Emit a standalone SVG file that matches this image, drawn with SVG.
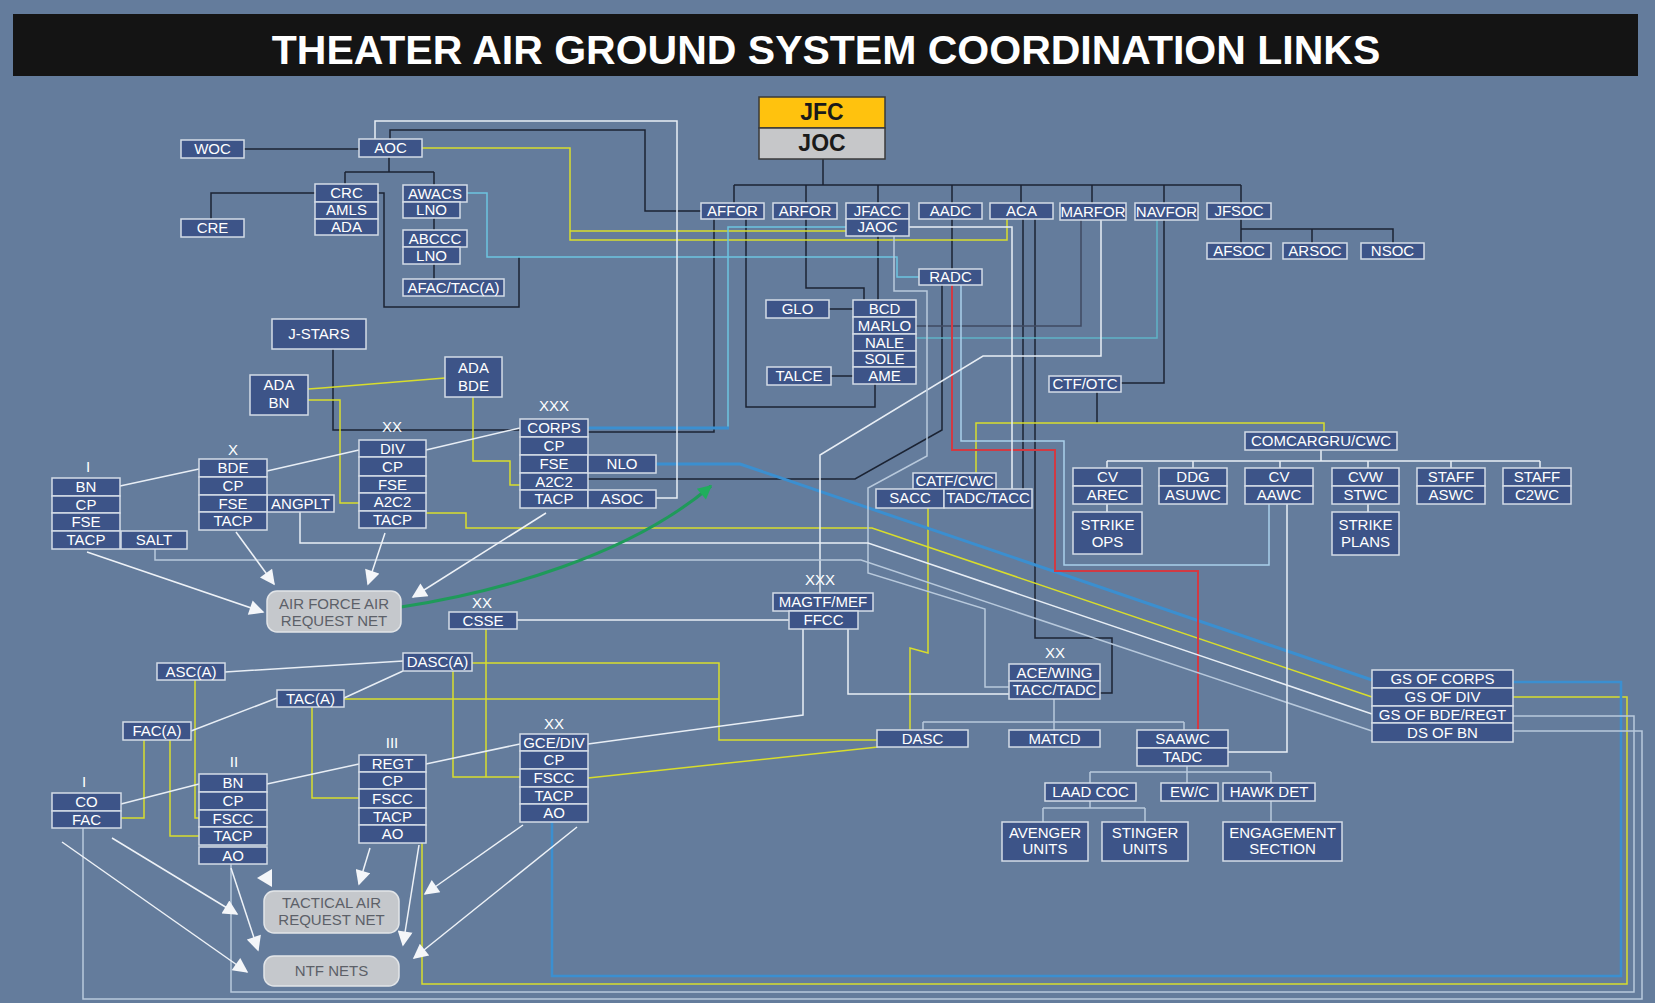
<svg xmlns="http://www.w3.org/2000/svg" width="1655" height="1003" viewBox="0 0 1655 1003">
<defs>
<style>
.n rect{fill:#3d5488;stroke:#d3dbe6;stroke-width:1.5}
.n text,.lbl{font-family:'Liberation Sans',Arial,sans-serif;font-size:15px;fill:#fff;text-anchor:middle}
.lbl{font-size:13px;fill:#eef2f7}
.net rect{fill:#c5c8cc;stroke:#e2e5e8;stroke-width:1.5}
.net text{fill:#5c6068}
.c path{fill:none;stroke-width:1.5}
.c path.k{stroke:#1b2333}
.c path.m{stroke:#3f4a62}
.c path.y{stroke:#d8dd2c}
.c path.cy{stroke:#6cc4df}
.c path.tl{stroke:#5fb2c6}
.c path.lb{stroke:#a9d0ea}
.c path.b{stroke:#3b8fd0;stroke-width:3}
.c path.b2{stroke:#3b8fd0;stroke-width:2.5}
.c path.w{stroke:#e8eef5}
.c path.g{stroke:#b8c9dc}
.c path.r{stroke:#d13a43;stroke-width:2}
.c path.ar{stroke:#eef2f7;marker-end:url(#ah)}
.c path.gr{stroke:#1f9a5a;stroke-width:3;marker-end:url(#ahg)}
</style>
<marker id="ah" viewBox="0 0 10 10" refX="9" refY="5" markerWidth="17" markerHeight="15" markerUnits="userSpaceOnUse" orient="auto"><path d="M0,0 L10,5 L0,10 z" fill="#f4f6f9"/></marker>
<marker id="ahg" viewBox="0 0 10 10" refX="9" refY="5" markerWidth="16" markerHeight="14" markerUnits="userSpaceOnUse" orient="auto"><path d="M0,0 L10,5 L0,10 z" fill="#1fae5c"/></marker>
</defs>
<rect width="1655" height="1003" fill="#647c9c"/>
<g id="title">
<rect x="13" y="14" width="1625" height="62" fill="#141414"/>
<text x="826" y="64" font-family="'Liberation Sans',Arial,sans-serif" font-size="41" font-weight="bold" fill="#fff" text-anchor="middle">THEATER AIR GROUND SYSTEM COORDINATION LINKS</text>
</g>
<g id="connectors" class="c">
<!-- dark -->
<path class="k" d="M823,159 V185 M734,185 H1241 M734,185 V203 M806,185 V203 M878,185 V203 M952,185 V203 M1021,185 V203 M1092,185 V203 M1164,185 V203 M1241,185 V203"/>
<path class="k" d="M1241,219 V243 M1241,229 H1393 V243 M1312,229 V243"/>
<path class="k" d="M244,149 H359"/>
<path class="k" d="M389,157 V172 M345,172 H434 M345,172 V184 M434,172 V279"/>
<path class="k" d="M315,193 H211 V219"/>
<path class="k" d="M378,193 H384 V307 H519 V257"/>
<path class="k" d="M390,139 V130 H645 V211 H701"/>
<path class="k" d="M806,219 V288 H864 V300"/>
<path class="k" d="M878,236 V300"/>
<path class="k" d="M829,309 H853 M831,376 H853"/>
<path class="k" d="M746,219 V407 H875 V384"/>
<path class="k" d="M714,219 V432 H588"/>
<path class="k" d="M952,219 V269"/>
<path class="k" d="M942,285 V430 L855,479 H588"/>
<path class="k" d="M1023,219 V489"/>
<path class="k" d="M1035,219 V638 H1112 V693 H1100"/>
<path class="m" d="M1081,220 V326 H916"/>
<path class="k" d="M1164,220 V383 H1121"/>
<path class="k" d="M1097,392 V423"/>
<path class="k" d="M333,349 V430 H520"/>
<!-- yellow -->
<path class="y" d="M422,148 H570 V240 H1007 V219 M570,231 H846"/>
<path class="y" d="M308,389 L322,388 L445,378"/>
<path class="y" d="M308,400 H340 V503 H359"/>
<path class="y" d="M473,397 V461 H510 V485 H520"/>
<path class="y" d="M426,513 H466 V528 H872 L1372,697"/>
<path class="y" d="M976,473 V423 H1324 V432"/>
<path class="y" d="M928,508 V653 L910,648 V730"/>
<path class="y" d="M121,818 H144 V740"/>
<path class="y" d="M170,740 V836 H199"/>
<path class="y" d="M195,680 V818 H199"/>
<path class="y" d="M312,707 V798 H359"/>
<path class="y" d="M344,699 H719 M472,663 H719 V740 H877"/>
<path class="y" d="M453,671 V777 H520 M486,629 V777"/>
<path class="y" d="M588,778 L878,747"/>
<path class="y" d="M1513,697 H1627 V984 H422 V843"/>
<!-- blues -->
<path class="cy" d="M467,193 H487 V257 H897 V277 H919"/>
<path class="tl" d="M1157,220 V338 H916"/>
<path class="lb" d="M961,285 V441 H1064 V565 H1269 V504"/>
<path class="cy" d="M728,428 V227 H846"/>
<path class="b" d="M588,428 H729"/>
<path class="b" d="M656,464 H740 L1372,680"/>
<path class="b2" d="M1513,682 H1621 V976 H552 V822"/>
<!-- red -->
<path class="r" d="M952,285 V450 H1055 V571 H1198 V730"/>
<!-- white / light -->
<path class="w" d="M375,139 V121 H677 V498 H656"/>
<path class="w" d="M909,227 H1012 V489"/>
<path class="w" d="M1101,220 V356 H983 L820,455 V593"/>
<path class="g" d="M894,236 V291 H927 V456 L868,488 V573 L985,609 V687 H1009"/>
<path class="w" d="M300,512 V543 H868 L1372,714"/>
<path class="g" d="M1513,716 H1634 V992 H231 V864"/>
<path class="g" d="M155,549 V560 H861 L1372,731"/>
<path class="g" d="M1513,731 H1642 V999 H83 V828"/>
<path class="w" d="M517,620 H789"/>
<path class="w" d="M848,629 V694 H1009"/>
<path class="w" d="M588,744 L803,715 V629"/>
<path class="w" d="M1287,504 V752 H1228"/>
<path class="w" d="M1321,450 V461 M1107,461 H1540 M1107,461 V468 M1193,461 V468 M1280,461 V468 M1368,461 V468 M1451,461 V468 M1540,461 V468 M1107,504 V512 M1368,504 V512"/>
<path class="g" d="M1054,699 V722 M923,722 H1184 M923,722 V730 M1054,722 V730 M1184,722 V730"/>
<path class="g" d="M1187,766 V772 M1090,772 H1271 M1090,772 V783 M1187,772 V783 M1271,772 V783"/>
<path class="g" d="M1090,801 V808 M1043,808 H1145 M1043,808 V822 M1145,808 V822 M1271,801 V822"/>
<path class="w" d="M120,486 L199,469 M267,471 L359,450 M426,450 L520,428"/>
<path class="w" d="M121,804 L199,784 M267,784 L359,764 M426,764 L520,744"/>
<path class="w" d="M225,672 L403,661 M344,698 L403,671 M191,731 L277,698"/>
<!-- arrows -->
<path class="ar" d="M87,552 L263,612"/>
<path class="ar" d="M236,532 L274,584"/>
<path class="ar" d="M385,533 L368,584"/>
<path class="ar" d="M546,513 L413,597"/>
<path class="ar" d="M523,825 L425,894"/>
<path class="ar" d="M577,827 L414,958"/>
<path class="ar" d="M370,848 L359,884"/>
<path class="ar" d="M419,845 L403,945"/>
<path class="ar" d="M231,868 L258,950"/>
<path class="ar" d="M62,842 L247,972"/>
<path class="ar" d="M112,838 L237,914"/>
<polygon points="257,878 272,869 272,887" fill="#f4f6f9"/>
<path class="gr" d="M401,607 C500,592 630,555 711,486"/>
</g>
<g id="woc" class="n"><rect x="181" y="140" width="63" height="18"/><text x="212.5" y="154">WOC</text></g>
<g id="aoc" class="n"><rect x="359" y="139" width="63" height="18"/><text x="390.5" y="153">AOC</text></g>
<g id="crc" class="n"><rect x="315" y="184" width="63" height="18"/><text x="346.5" y="198">CRC</text><rect x="315" y="202" width="63" height="17"/><text x="346.5" y="215">AMLS</text><rect x="315" y="219" width="63" height="16"/><text x="346.5" y="232">ADA</text></g>
<g id="cre" class="n"><rect x="181" y="219" width="63" height="18"/><text x="212.5" y="233">CRE</text></g>
<g id="awacs" class="n"><rect x="403" y="185" width="64" height="17"/><text x="435" y="198.5">AWACS</text><rect x="403" y="202" width="57" height="16"/><text x="431.5" y="215">LNO</text></g>
<g id="abccc" class="n"><rect x="403" y="230" width="64" height="17"/><text x="435" y="243.5">ABCCC</text><rect x="403" y="247" width="57" height="17"/><text x="431.5" y="260.5">LNO</text></g>
<g id="afac" class="n"><rect x="403" y="279" width="101" height="17"/><text x="453.5" y="292.5">AFAC/TAC(A)</text></g>
<g id="jstars" class="n"><rect x="272" y="319" width="94" height="30"/><text x="319" y="339">J-STARS</text></g>
<g id="adabn" class="n"><rect x="250" y="375" width="58" height="40"/><text x="279" y="390">ADA</text><text x="279" y="408">BN</text></g>
<g id="adabde" class="n"><rect x="445" y="357" width="57" height="40"/><text x="473.5" y="373">ADA</text><text x="473.5" y="391">BDE</text></g>
<g id="jfc">
<rect x="759" y="97" width="126" height="31" fill="#ffc20e" stroke="#3a3a3a" stroke-width="1.5"/>
<text x="822" y="120" font-family="'Liberation Sans',Arial,sans-serif" font-size="23" font-weight="bold" fill="#1a1a1a" text-anchor="middle">JFC</text>
<rect x="759" y="128" width="126" height="31" fill="#c6c7c9" stroke="#3a3a3a" stroke-width="1.5"/>
<text x="822" y="151" font-family="'Liberation Sans',Arial,sans-serif" font-size="23" font-weight="bold" fill="#1a1a1a" text-anchor="middle">JOC</text>
</g>
<g id="affor" class="n"><rect x="701" y="203" width="63" height="16"/><text x="732.5" y="216">AFFOR</text></g>
<g id="arfor" class="n"><rect x="773" y="203" width="64" height="16"/><text x="805" y="216">ARFOR</text></g>
<g id="jfacc" class="n"><rect x="846" y="203" width="63" height="16"/><text x="877.5" y="216">JFACC</text><rect x="846" y="219" width="63" height="17"/><text x="877.5" y="232">JAOC</text></g>
<g id="aadc" class="n"><rect x="919" y="203" width="63" height="16"/><text x="950.5" y="216">AADC</text></g>
<g id="aca" class="n"><rect x="990" y="203" width="63" height="16"/><text x="1021.5" y="216">ACA</text></g>
<g id="marfor" class="n"><rect x="1060" y="203" width="66" height="17"/><text x="1093" y="216.5">MARFOR</text></g>
<g id="navfor" class="n"><rect x="1135" y="203" width="63" height="17"/><text x="1166.5" y="216.5">NAVFOR</text></g>
<g id="jfsoc" class="n"><rect x="1207" y="203" width="64" height="16"/><text x="1239" y="216">JFSOC</text></g>
<g id="afsoc" class="n"><rect x="1207" y="243" width="64" height="16"/><text x="1239" y="256">AFSOC</text></g>
<g id="arsoc" class="n"><rect x="1283" y="243" width="64" height="16"/><text x="1315" y="256">ARSOC</text></g>
<g id="nsoc" class="n"><rect x="1361" y="243" width="63" height="16"/><text x="1392.5" y="256">NSOC</text></g>
<g id="radc" class="n"><rect x="919" y="269" width="63" height="16"/><text x="950.5" y="282">RADC</text></g>
<g id="glo" class="n"><rect x="766" y="300" width="63" height="18"/><text x="797.5" y="314">GLO</text></g>
<g id="talce" class="n"><rect x="767" y="367" width="64" height="18"/><text x="799" y="381">TALCE</text></g>
<g id="bcd" class="n">
<rect x="853" y="300" width="63" height="17"/><text x="884.5" y="313.5">BCD</text>
<rect x="853" y="317" width="63" height="17"/><text x="884.5" y="330.5">MARLO</text>
<rect x="853" y="334" width="63" height="17"/><text x="884.5" y="347.5">NALE</text>
<rect x="853" y="351" width="63" height="16"/><text x="884.5" y="364">SOLE</text>
<rect x="853" y="367" width="63" height="17"/><text x="884.5" y="380.5">AME</text>
</g>
<g id="ctfotc" class="n"><rect x="1049" y="376" width="72" height="16"/><text x="1085" y="389">CTF/OTC</text></g>
<g id="comcargru" class="n"><rect x="1245" y="432" width="152" height="18"/><text x="1321" y="446">COMCARGRU/CWC</text></g>
<g id="cvarec" class="n"><rect x="1073" y="468" width="69" height="18"/><text x="1107.5" y="482">CV</text><rect x="1073" y="486" width="69" height="18"/><text x="1107.5" y="500">AREC</text></g>
<g id="strikeops" class="n"><rect x="1073" y="512" width="69" height="42"/><text x="1107.5" y="530">STRIKE</text><text x="1107.5" y="547">OPS</text></g>
<g id="ddg" class="n"><rect x="1159" y="468" width="68" height="18"/><text x="1193" y="482">DDG</text><rect x="1159" y="486" width="68" height="18"/><text x="1193" y="500">ASUWC</text></g>
<g id="cvaawc" class="n"><rect x="1245" y="468" width="68" height="18"/><text x="1279" y="482">CV</text><rect x="1245" y="486" width="68" height="18"/><text x="1279" y="500">AAWC</text></g>
<g id="cvw" class="n"><rect x="1332" y="468" width="67" height="18"/><text x="1365.5" y="482">CVW</text><rect x="1332" y="486" width="67" height="18"/><text x="1365.5" y="500">STWC</text></g>
<g id="strikeplans" class="n"><rect x="1332" y="512" width="67" height="43"/><text x="1365.5" y="530">STRIKE</text><text x="1365.5" y="547">PLANS</text></g>
<g id="staffaswc" class="n"><rect x="1417" y="468" width="68" height="18"/><text x="1451" y="482">STAFF</text><rect x="1417" y="486" width="68" height="18"/><text x="1451" y="500">ASWC</text></g>
<g id="staffc2wc" class="n"><rect x="1503" y="468" width="68" height="18"/><text x="1537" y="482">STAFF</text><rect x="1503" y="486" width="68" height="18"/><text x="1537" y="500">C2WC</text></g>
<g id="catf" class="n"><rect x="913" y="473" width="83" height="16"/><text x="954.5" y="486">CATF/CWC</text><rect x="876" y="489" width="68" height="19"/><text x="910" y="503">SACC</text><rect x="944" y="489" width="88" height="19"/><text x="988" y="503">TADC/TACC</text></g>
<g id="corps" class="n">
<text class="lbl" x="554" y="411">XXX</text>
<rect x="520" y="419" width="68" height="18"/><text x="554" y="433">CORPS</text>
<rect x="520" y="437" width="68" height="18"/><text x="554" y="451">CP</text>
<rect x="520" y="455" width="68" height="18"/><text x="554" y="469">FSE</text>
<rect x="520" y="473" width="68" height="17"/><text x="554" y="486.5">A2C2</text>
<rect x="520" y="490" width="68" height="18"/><text x="554" y="504">TACP</text>
<rect x="588" y="455" width="68" height="18"/><text x="622" y="469">NLO</text>
<rect x="588" y="490" width="68" height="18"/><text x="622" y="504">ASOC</text>
</g>
<g id="div" class="n">
<text class="lbl" x="392" y="432">XX</text>
<rect x="359" y="440" width="67" height="17"/><text x="392.5" y="453.5">DIV</text>
<rect x="359" y="457" width="67" height="19"/><text x="392.5" y="471.5">CP</text>
<rect x="359" y="476" width="67" height="17"/><text x="392.5" y="489.5">FSE</text>
<rect x="359" y="493" width="67" height="18"/><text x="392.5" y="507">A2C2</text>
<rect x="359" y="511" width="67" height="17"/><text x="392.5" y="524.5">TACP</text>
</g>
<g id="angplt" class="n"><rect x="267" y="495" width="67" height="17"/><text x="300.5" y="508.5">ANGPLT</text></g>
<g id="bde" class="n">
<text class="lbl" x="233" y="455">X</text>
<rect x="199" y="459" width="68" height="18"/><text x="233" y="473">BDE</text>
<rect x="199" y="477" width="68" height="18"/><text x="233" y="491">CP</text>
<rect x="199" y="495" width="68" height="17"/><text x="233" y="508.5">FSE</text>
<rect x="199" y="512" width="68" height="18"/><text x="233" y="526">TACP</text>
</g>
<g id="bn" class="n">
<text class="lbl" x="88" y="472">I</text>
<rect x="52" y="478" width="68" height="18"/><text x="86" y="492">BN</text>
<rect x="52" y="496" width="68" height="17"/><text x="86" y="509.5">CP</text>
<rect x="52" y="513" width="68" height="18"/><text x="86" y="527">FSE</text>
<rect x="52" y="531" width="68" height="18"/><text x="86" y="545">TACP</text>
<rect x="121" y="531" width="66" height="18"/><text x="154" y="545">SALT</text>
</g>
<g id="afarn" class="n net"><rect x="267" y="591" width="134" height="41" rx="10"/><text x="334" y="609">AIR FORCE AIR</text><text x="334" y="626">REQUEST NET</text></g>
<g id="magtf" class="n">
<text class="lbl" x="820" y="585">XXX</text>
<rect x="773" y="593" width="100" height="18"/><text x="823" y="607">MAGTF/MEF</text>
<rect x="789" y="611" width="69" height="18"/><text x="823.5" y="625">FFCC</text>
</g>
<g id="csse" class="n"><text class="lbl" x="482" y="608">XX</text><rect x="449" y="612" width="68" height="17"/><text x="483" y="625.5">CSSE</text></g>
<g id="acewing" class="n">
<text class="lbl" x="1055" y="658">XX</text>
<rect x="1009" y="664" width="91" height="17"/><text x="1054.5" y="677.5">ACE/WING</text>
<rect x="1009" y="681" width="91" height="18"/><text x="1054.5" y="695">TACC/TADC</text>
</g>
<g id="dasca" class="n"><rect x="403" y="653" width="69" height="18"/><text x="437.5" y="667">DASC(A)</text></g>
<g id="asca" class="n"><rect x="157" y="663" width="68" height="17"/><text x="191" y="676.5">ASC(A)</text></g>
<g id="taca" class="n"><rect x="277" y="690" width="67" height="17"/><text x="310.5" y="703.5">TAC(A)</text></g>
<g id="faca" class="n"><rect x="123" y="722" width="68" height="18"/><text x="157" y="736">FAC(A)</text></g>
<g id="dasc" class="n"><rect x="877" y="730" width="91" height="17"/><text x="922.5" y="743.5">DASC</text></g>
<g id="matcd" class="n"><rect x="1009" y="730" width="91" height="17"/><text x="1054.5" y="743.5">MATCD</text></g>
<g id="saawc" class="n"><rect x="1137" y="730" width="91" height="18"/><text x="1182.5" y="744">SAAWC</text><rect x="1137" y="748" width="91" height="18"/><text x="1182.5" y="762">TADC</text></g>
<g id="gs" class="n">
<rect x="1372" y="670" width="141" height="18"/><text x="1442.5" y="684">GS OF CORPS</text>
<rect x="1372" y="688" width="141" height="18"/><text x="1442.5" y="702">GS OF DIV</text>
<rect x="1372" y="706" width="141" height="17"/><text x="1442.5" y="719.5">GS OF BDE/REGT</text>
<rect x="1372" y="723" width="141" height="19"/><text x="1442.5" y="737.5">DS OF BN</text>
</g>
<g id="laad" class="n"><rect x="1045" y="783" width="91" height="18"/><text x="1090.5" y="797">LAAD COC</text></g>
<g id="ewc" class="n"><rect x="1161" y="783" width="57" height="18"/><text x="1189.5" y="797">EW/C</text></g>
<g id="hawk" class="n"><rect x="1223" y="783" width="92" height="18"/><text x="1269" y="797">HAWK DET</text></g>
<g id="avenger" class="n"><rect x="1002" y="822" width="86" height="39"/><text x="1045" y="838">AVENGER</text><text x="1045" y="854">UNITS</text></g>
<g id="stinger" class="n"><rect x="1102" y="822" width="86" height="39"/><text x="1145" y="838">STINGER</text><text x="1145" y="854">UNITS</text></g>
<g id="engagement" class="n"><rect x="1223" y="822" width="119" height="39"/><text x="1282.5" y="838">ENGAGEMENT</text><text x="1282.5" y="854">SECTION</text></g>
<g id="co" class="n">
<text class="lbl" x="84" y="787">I</text>
<rect x="52" y="793" width="69" height="18"/><text x="86.5" y="807">CO</text>
<rect x="52" y="811" width="69" height="17"/><text x="86.5" y="824.5">FAC</text>
</g>
<g id="bn2" class="n">
<text class="lbl" x="234" y="767">II</text>
<rect x="199" y="774" width="68" height="18"/><text x="233" y="788">BN</text>
<rect x="199" y="792" width="68" height="18"/><text x="233" y="806">CP</text>
<rect x="199" y="810" width="68" height="17"/><text x="233" y="823.5">FSCC</text>
<rect x="199" y="827" width="68" height="18"/><text x="233" y="841">TACP</text>
<rect x="199" y="847" width="68" height="17"/><text x="233" y="860.5">AO</text>
</g>
<g id="regt" class="n">
<text class="lbl" x="392" y="748">III</text>
<rect x="359" y="755" width="67" height="17"/><text x="392.5" y="768.5">REGT</text>
<rect x="359" y="772" width="67" height="17"/><text x="392.5" y="785.5">CP</text>
<rect x="359" y="789" width="67" height="19"/><text x="392.5" y="803.5">FSCC</text>
<rect x="359" y="808" width="67" height="17"/><text x="392.5" y="821.5">TACP</text>
<rect x="359" y="825" width="67" height="18"/><text x="392.5" y="839">AO</text>
</g>
<g id="gce" class="n">
<text class="lbl" x="554" y="729">XX</text>
<rect x="520" y="734" width="68" height="17"/><text x="554" y="747.5">GCE/DIV</text>
<rect x="520" y="751" width="68" height="18"/><text x="554" y="765">CP</text>
<rect x="520" y="769" width="68" height="18"/><text x="554" y="783">FSCC</text>
<rect x="520" y="787" width="68" height="17"/><text x="554" y="800.5">TACP</text>
<rect x="520" y="804" width="68" height="18"/><text x="554" y="818">AO</text>
</g>
<g id="tarn" class="n net"><rect x="264" y="891" width="135" height="42" rx="10"/><text x="331.5" y="908">TACTICAL AIR</text><text x="331.5" y="925">REQUEST NET</text></g>
<g id="ntf" class="n net"><rect x="264" y="956" width="135" height="30" rx="10"/><text x="331.5" y="976">NTF NETS</text></g>
</svg>
